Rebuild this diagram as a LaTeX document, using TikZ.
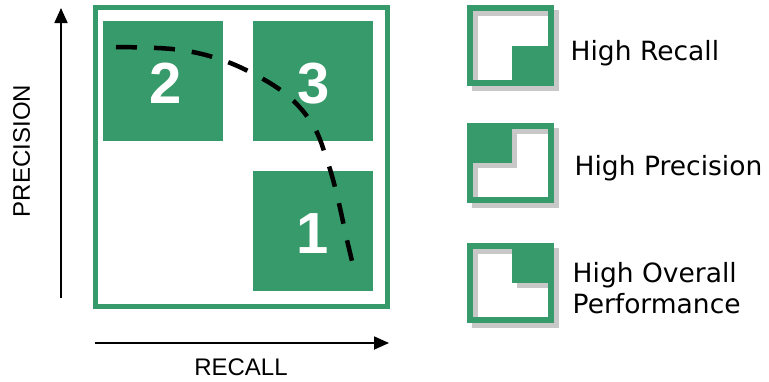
\documentclass[tikz,border=0pt]{standalone}
\usepackage{fontspec}
\setmainfont{Liberation Sans}
\newfontfamily\legendfont{DejaVu Sans}
\usetikzlibrary{arrows.meta}
\definecolor{prgreen}{RGB}{55,154,106}
\definecolor{shadowgray}{RGB}{200,200,200}
\begin{document}
\begin{tikzpicture}[x=1pt,y=-1pt,
  quad/.style={fill=prgreen, draw=none, inner sep=0pt, minimum width=120pt, minimum height=120pt},
  digit/.style={text=white, font=\fontsize{58}{58}\selectfont\bfseries, inner sep=0pt, anchor=base},
  axis/.style={line width=1.8pt, -{Triangle[length=15pt,width=13pt]}},
  axislabel/.style={font=\fontsize{24}{24}\selectfont, inner sep=0pt, anchor=base},
  legendtext/.style={font=\legendfont\fontsize{26.5}{31}\selectfont, inner sep=0pt, anchor=base west},
  mainframe/.style={draw=prgreen, line width=5pt, inner sep=0pt, minimum width=292pt, minimum height=299pt},
  iconframe/.style={draw=prgreen, line width=6pt},
  iconshadow/.style={draw=shadowgray, line width=6pt},
  curve/.style={line width=4.5pt, dash pattern=on 21pt off 17pt}
]
\useasboundingbox (0,0) rectangle (769,381);

% main frame and quadrants
\node[mainframe] (frame) at (241.5,157) {};
\node[quad] (q2) at (163,81) {};
\node[quad] (q3) at (313,81) {};
\node[quad] (q1) at (313,231) {};
\node[digit] (n2) at (166,103.5) {2};
\node[digit] (n3) at (314,103.5) {3};
\node[digit] (n1) at (313,253) {1};

% dashed trade-off curve
\draw[curve] plot[smooth, tension=0.6] coordinates {(116,47) (172,49) (213,57) (250,72) (287,95) (313,125) (327,160) (337,195) (347,240) (355,273)};

% axes
\coordinate (ybot) at (61,298);
\coordinate (ytop) at (61,8);
\coordinate (xl) at (95,343);
\coordinate (xr) at (389,343);
\draw[axis] (ybot) -- (ytop);
\draw[axis] (xl) -- (xr);
\node[axislabel] (recall) at (241,375) {RECALL};
\node[axislabel, rotate=90] (precision) at (30,151) {PRECISION};

% legend icon 1: high recall (bottom-right filled)
\fill[shadowgray] (517,51) rectangle (559,91);
\draw[iconshadow] (475,13) rectangle (556,88);
\draw[iconframe] (470,8) rectangle (551,83);
\fill[prgreen] (512,46) rectangle (554,86);
% legend icon 2: high precision (top-left filled)
\draw[iconshadow] (475,131) rectangle (556,205);
\fill[shadowgray] (472,128) rectangle (517,168);
\draw[iconframe] (470,126) rectangle (551,200);
\fill[prgreen] (467,123) rectangle (512,163);
% legend icon 3: high overall performance (top-right filled)
\draw[iconshadow] (475,251) rectangle (556,325);
\fill[shadowgray] (517,253) rectangle (555,288);
\draw[iconframe] (470,246) rectangle (551,320);
\fill[prgreen] (512,248) rectangle (550,283);

% legend texts
\node[legendtext] (l1) at (570.5,60) {High Recall};
\node[legendtext] (l2) at (574.5,175) {High Precision};
\node[legendtext] (l3) at (572.5,282) {High Overall};
\node[legendtext] (l4) at (572.5,313) {Performance};
\end{tikzpicture}
\end{document}
